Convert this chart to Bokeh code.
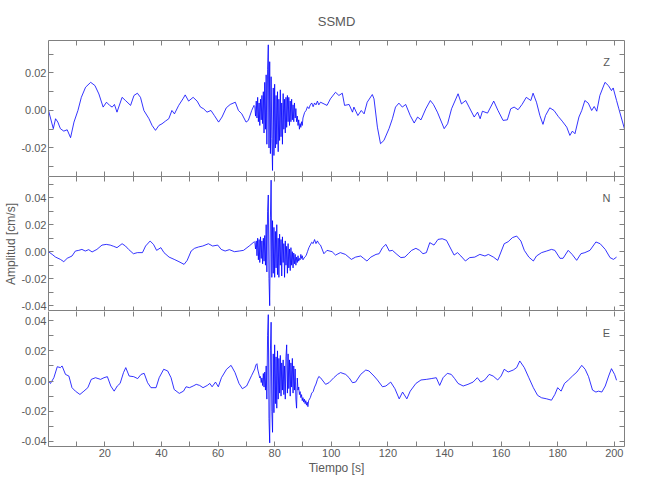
import numpy as np
from bokeh.plotting import figure
from bokeh.layouts import column
from bokeh.models import Range1d, FixedTicker, LinearAxis, Label, PrintfTickFormatter
from bokeh.embed import file_html
from bokeh.resources import INLINE

# ---------------- data ----------------
title_text = "SSMD"
x_label = "Tiempo [s]"
y_label = "Amplitud [cm/s]"
components = ["Z", "N", "E"]

x_ticks = [20, 40, 60, 80, 100, 120, 140, 160, 180, 200]

# sampling grid of the dense (strong-motion) part of the records
burst_start = 73.0
burst_step = 0.25

# --- Z component ---
z_t_pre = [0.1, 1.8, 2.6, 3.4, 4.3, 5.5, 6.7, 7.9, 9.1, 10.5, 11.7, 13.2, 15.0, 16.5, 17.9,
           19.4, 20.6, 21.7, 22.6, 23.4, 24.3, 26.1, 27.3, 29.1, 30.3, 31.5, 32.6, 33.8,
           35.6, 36.7, 37.9, 39.1, 40.2, 41.4, 42.6, 43.7, 44.6, 46.1, 47.6, 48.4, 49.6,
           51.2, 52.6, 53.8, 54.9, 56.1, 57.5, 58.7, 60.2, 61.4, 62.9, 64.3, 66.1, 67.2,
           68.4, 69.9, 70.7, 71.9, 72.7]
z_v_pre = [0.0, -0.0097, -0.0044, -0.0062, -0.0097, -0.011, -0.0103, -0.0145, -0.0062, 0.0,
           0.007, 0.0124, 0.015, 0.0133, 0.0088, 0.0018, 0.0044, 0.0027, 0.0018, 0.0032,
           -0.0009, 0.007, 0.0053, 0.0027, 0.008, 0.0092, 0.007, 0.0, -0.0044, -0.008,
           -0.0106, -0.008, -0.0071, -0.0057, -0.0044, 0.0, -0.0018, 0.0027, 0.0062, 0.0083,
           0.005, 0.007, 0.005, 0.0018, 0.0009, -0.0009, 0.0, -0.0027, -0.0062, -0.0035,
           0.0014, 0.0032, 0.0044, 0.0, -0.0018, -0.0062, -0.0053, 0.0, 0.0027]
z_burst = [0.002, -0.003, 0.005, -0.004, 0.007, -0.006, 0.004, -0.008, 0.006, -0.005,
           0.008, -0.007, 0.010, -0.012, 0.015, -0.010, 0.019, -0.018, 0.022, 0.035,
           -0.020, 0.026, -0.023, 0.018, -0.015, -0.032, 0.012, -0.024, 0.014, -0.020,
           0.008, -0.018, 0.010, -0.022, 0.006, -0.016, 0.011, -0.014, 0.004, -0.018,
           0.009, -0.010, 0.006, -0.012, 0.007, -0.009, 0.008, -0.006, 0.007, -0.008,
           0.005, -0.006, 0.006, -0.005, 0.003, -0.006, 0.004, -0.004, 0.001, -0.006,
           -0.003, -0.008, -0.005, -0.010, -0.007, -0.009, -0.006, -0.008, -0.004]
z_t_post = [90.6, 91.1, 91.6, 92.1, 92.6, 93.1, 93.6, 94.1, 94.6, 95.1, 95.6,
            96.2, 98.5, 99.7, 101.5, 102.7, 103.9, 104.7, 106.3, 107.5, 108.0, 109.4, 110.6,
            111.6, 112.7, 114.5, 115.1, 116.3, 117.4, 118.6, 120.4, 121.6, 122.7, 123.9,
            125.1, 126.3, 127.9, 129.3, 130.5, 131.7, 133.4, 135.0, 136.1, 137.5, 139.9,
            141.1, 142.5, 144.8, 146.0, 147.5, 148.7, 150.5, 151.7, 152.6, 153.4, 155.2,
            157.4, 158.9, 160.7, 162.2, 163.4, 164.6, 166.0, 167.4, 168.9, 170.5, 171.3,
            172.5, 173.7, 174.8, 175.7, 177.2, 178.7, 180.2, 181.6, 183.2, 184.3, 185.2,
            186.1, 187.5, 188.5, 189.6, 190.8, 192.0, 192.9, 193.8, 194.9, 196.7, 197.9,
            199.0, 199.6, 200.8, 201.6, 203.6]
z_v_post = [-0.001, 0.0, 0.002, 0.001, 0.003, 0.004, 0.002, 0.004, 0.003, 0.005, 0.003,
            0.0044, 0.0027, 0.0062, 0.0097, 0.008, 0.0092, 0.0027, 0.0032, -0.0009, 0.0018,
            -0.0027, 0.0, -0.0018, 0.0044, 0.0085, 0.0062, -0.0089, -0.0177, -0.016,
            -0.0097, -0.0044, 0.0018, 0.0039, 0.0018, 0.0032, -0.0027, -0.0067, -0.0035,
            -0.005, 0.0009, 0.0053, 0.0032, -0.0009, -0.0097, -0.0071, 0.0009, 0.0089,
            0.0035, 0.0053, 0.0018, -0.0035, -0.0009, -0.0044, -0.0004, -0.0014, 0.005, 0.0,
            -0.0053, -0.005, 0.0009, 0.0018, 0.0004, 0.0032, 0.007, 0.0053, 0.0092, 0.0044,
            -0.0027, -0.0074, -0.0027, 0.0014, 0.0, -0.0032, -0.0057, -0.0089, -0.0133,
            -0.011, -0.0124, -0.0035, 0.0, 0.0053, 0.0039, 0.0, 0.0021, -0.0004, 0.008,
            0.015, 0.0133, 0.0106, 0.012, 0.0053, 0.0009, -0.0099]

# --- N component ---
n_t_pre = [0.1, 1.4, 2.6, 4.3, 5.5, 6.7, 8.4, 9.6, 10.8, 11.9, 13.1, 14.3, 15.5, 17.2, 19.0,
           20.5, 21.9, 23.1, 24.3, 26.1, 27.3, 28.4, 30.1, 31.5, 33.3, 34.4, 36.0, 37.2,
           38.3, 39.8, 40.9, 42.7, 44.5, 46.2, 48.0, 49.1, 50.5, 51.7, 53.1, 54.6, 56.6,
           58.1, 59.9, 61.1, 62.5, 64.0, 65.8, 67.5, 69.0, 71.0, 72.8]
n_v_pre = [0.0, -0.002, -0.004, -0.0057, -0.0074, -0.0049, -0.0032, 0.0005, 0.001, 0.0017,
           0.0005, 0.0015, -0.0002, 0.0017, 0.0049, 0.0054, 0.0049, 0.004, 0.003, 0.0059,
           0.0042, 0.0017, -0.0015, -0.0007, -0.0007, 0.0042, 0.0079, 0.0054, 0.001, 0.003,
           -0.0007, -0.004, -0.0057, -0.0074, -0.0094, -0.0064, 0.0005, 0.0025, 0.0035,
           0.0042, 0.0059, 0.0042, 0.0049, 0.0017, 0.0005, 0.0015, 0.0, 0.0005, 0.001,
           0.0042, 0.0074]
n_burst = [0.007, 0.002, 0.008, -0.003, 0.010, -0.006, 0.009, -0.008, 0.011, -0.005,
           0.008, -0.009, 0.010, -0.007, 0.012, -0.010, 0.020, -0.015, 0.030, 0.042,
           -0.020, -0.040, 0.025, 0.053, -0.019, 0.023, -0.016, 0.018, -0.019, 0.015,
           -0.012, 0.020, -0.017, 0.010, -0.019, 0.013, -0.010, 0.009, -0.018, 0.011,
           -0.008, 0.006, -0.019, 0.008, -0.010, 0.004, -0.016, 0.006, -0.012, 0.002,
           -0.014, 0.003, -0.010, 0.000, -0.012, -0.001, -0.009, -0.002, -0.010, -0.004,
           -0.008, -0.003, -0.007, -0.005, -0.006, -0.002, -0.005, -0.003, -0.006]
n_t_post = [90.6, 91.1, 91.6, 92.1, 92.6, 93.1, 93.6, 94.1, 94.6, 95.1, 95.6,
            96.2, 97.4, 98.5, 100.3, 101.5, 103.2, 105.0, 107.1, 108.6, 110.4, 111.4, 112.6,
            114.0, 115.8, 116.9, 118.1, 119.3, 120.5, 121.6, 123.2, 124.6, 126.0, 127.2,
            128.4, 129.9, 131.2, 132.4, 133.6, 134.8, 136.3, 137.7, 139.2, 140.7, 141.9,
            143.4, 144.6, 145.8, 147.4, 148.9, 150.7, 152.5, 154.3, 155.5, 157.3, 158.8,
            161.1, 162.5, 164.0, 165.5, 167.0, 168.2, 169.8, 171.4, 172.5, 174.3, 176.1,
            177.8, 179.0, 180.8, 181.9, 183.7, 185.1, 186.7, 188.2, 189.6, 191.4, 193.5,
            195.0, 196.8, 198.5, 199.7, 200.8]
n_v_post = [-0.004, -0.003, 0.0, 0.003, 0.005, 0.007, 0.006, 0.009, 0.006, 0.008, 0.006,
            0.0049, -0.0015, 0.001, 0.0, -0.0025, -0.0007, -0.002, -0.0057, -0.004, -0.0032,
            -0.0049, -0.0069, -0.004, -0.002, -0.0015, 0.003, 0.0054, 0.0005, 0.001, -0.002,
            -0.0044, -0.004, -0.0015, 0.001, 0.0025, 0.001, -0.0015, -0.0007, 0.0067, 0.0049,
            0.0091, 0.0096, 0.0084, 0.0035, -0.0025, -0.0007, -0.0032, -0.0069, -0.0044,
            -0.004, -0.002, -0.0032, -0.002, -0.004, -0.0064, 0.0059, 0.0074, 0.0104, 0.0116,
            0.0079, 0.001, -0.004, -0.0069, -0.0032, -0.0007, 0.0005, 0.0017, 0.001, -0.0049,
            -0.0049, 0.001, -0.002, -0.0064, -0.0015, -0.0007, 0.001, 0.0072, 0.0059, 0.0017,
            -0.0044, -0.0057, -0.004]

# --- E component ---
e_t_pre = [0.1, 0.8, 2.0, 3.2, 4.3, 4.9, 6.1, 7.3, 8.4, 9.6, 11.2, 12.6, 14.0, 15.2, 16.7,
           18.5, 19.7, 20.9, 22.1, 23.3, 24.4, 25.4, 26.6, 27.4, 28.6, 30.2, 31.6, 32.8,
           33.9, 35.1, 36.3, 38.1, 39.2, 40.8, 42.2, 43.4, 44.5, 46.3, 47.8, 48.7, 49.9,
           51.2, 52.3, 53.5, 54.7, 56.2, 57.1, 57.9, 59.1, 60.1, 61.2, 63.0, 64.6, 66.0,
           67.4, 68.6, 70.1, 71.9]
e_v_pre = [0.0, -0.0016, 0.0022, 0.0095, 0.0089, 0.01, 0.0044, 0.0033, -0.0044, -0.0067,
           -0.0089, -0.0067, -0.0044, 0.0011, 0.0022, 0.0011, 0.0022, 0.0029, -0.0033,
           -0.0067, -0.0033, -0.0016, 0.0056, 0.0089, 0.0033, 0.0029, 0.0016, 0.0044, 0.0051,
           -0.0011, -0.0044, -0.0044, 0.0022, 0.0078, 0.0067, 0.0022, -0.0056, -0.0082,
           -0.0067, -0.0038, -0.0044, -0.0033, -0.0022, -0.0029, -0.0044, -0.0029, -0.0016,
           -0.0038, -0.0007, -0.0038, 0.0022, 0.0078, 0.0104, 0.0056, -0.0016, -0.0051,
           -0.0033, 0.0038]
e_burst = [0.008, 0.010, 0.011, 0.0115, 0.008, 0.006, 0.004, 0.002, 0.003, -0.001,
           0.002, -0.003, 0.005, -0.004, 0.006, -0.006, 0.010, -0.012, 0.030, 0.044,
           -0.025, -0.041, 0.020, 0.039, -0.020, -0.034, 0.018, -0.021, 0.024, -0.015,
           0.016, -0.018, 0.020, -0.012, 0.015, -0.008, 0.017, -0.010, 0.012, -0.006,
           0.014, -0.009, 0.010, -0.012, 0.016, 0.024, -0.008, 0.018, -0.005, 0.014,
           -0.010, 0.012, -0.004, 0.015, -0.008, 0.010, -0.006, 0.008, -0.012, -0.018,
           0.002, -0.006, -0.004, -0.009, -0.007, -0.011, -0.009, -0.013, -0.011, -0.014,
           -0.012, -0.015, -0.013, -0.016, -0.014, -0.017, -0.013]
e_t_post = [92.6, 93.1, 93.6, 94.1, 94.6, 95.1, 95.6,
            96.2, 98.0, 99.2, 100.9, 102.2, 103.3, 105.1, 106.3, 107.5, 108.6, 110.4, 112.2,
            113.3, 115.1, 116.3, 118.1, 119.3, 121.0, 122.5, 124.0, 125.2, 126.7, 127.9,
            129.9, 131.7, 133.6, 135.3, 137.1, 138.3, 139.5, 141.0, 142.4, 143.6, 144.8,
            146.6, 148.3, 150.1, 151.6, 152.8, 154.2, 155.8, 157.2, 158.8, 160.0, 161.1,
            162.5, 164.3, 165.5, 166.6, 168.2, 169.8, 171.4, 172.9, 174.3, 176.1, 177.8,
            179.0, 180.0, 181.2, 182.4, 183.8, 185.2, 186.8, 188.5, 189.7, 190.9, 192.3,
            193.5, 194.4, 195.6, 196.8, 198.0, 199.0, 200.1, 200.8]
e_v_post = [-0.011, -0.008, -0.007, -0.004, -0.002, 0.001, 0.003,
            0.0022, -0.0022, -0.0011, 0.0022, 0.0044, 0.0056, 0.0044, 0.0022, -0.0011,
            -0.0007, 0.0044, 0.0073, 0.0067, 0.0033, 0.0007, -0.0038, -0.0033, -0.0007,
            -0.0051, -0.0118, -0.0073, -0.0118, -0.0067, -0.0016, 0.0007, 0.0011, 0.0016,
            0.0022, -0.0029, 0.0022, 0.0051, 0.0044, 0.0016, -0.0016, -0.0033, -0.0022,
            -0.0007, 0.0022, -0.0007, 0.0007, 0.0044, 0.0033, 0.0007, 0.0033, 0.0078, 0.006,
            0.0073, 0.0089, 0.0133, 0.0089, 0.0022, -0.0044, -0.0095, -0.0111, -0.0118,
            -0.0127, -0.0089, -0.0044, -0.0067, -0.0016, 0.0007, 0.0033, 0.006, 0.0104,
            0.0078, 0.0029, -0.006, -0.0073, -0.0067, -0.0073, -0.0033, 0.0033, 0.0082,
            0.0044, 0.0005]

x_range_lim = (0.1, 203.6)
y_limits = [(-0.0352, 0.0373), (-0.0443, 0.0557), (-0.0434, 0.0461)]
y_label_ticks = [[-0.02, 0.0, 0.02], [-0.04, -0.02, 0.0, 0.02, 0.04], [-0.04, -0.02, 0.0, 0.02, 0.04]]
y_minor_ticks = [[-0.03, -0.01, 0.01, 0.03],
                 [-0.03, -0.01, 0.01, 0.03, 0.05],
                 [-0.03, -0.01, 0.01, 0.03]]


def series(t_pre, v_pre, burst, t_post, v_post):
    t_b = [burst_start + i * burst_step for i in range(len(burst))]
    return list(t_pre) + t_b + list(t_post), list(v_pre) + list(burst) + list(v_post)


traces = [series(z_t_pre, z_v_pre, z_burst, z_t_post, z_v_post),
          series(n_t_pre, n_v_pre, n_burst, n_t_post, n_v_post),
          series(e_t_pre, e_v_pre, e_burst, e_t_post, e_v_post)]

# ---------------- style ----------------
GRAY = "#808080"
TXT = "#5a5a5a"
FONT = "Liberation Sans"
FRAME_W = 576
FRAME_H = [136, 135, 135]

xr = Range1d(*x_range_lim)
x_ticker = FixedTicker(ticks=x_ticks, minor_ticks=[10, 30, 50, 70, 90, 110, 130, 150, 170, 190])


def style_axis(ax, show_labels, show_line):
    ax.axis_line_color = GRAY if show_line else None
    ax.major_tick_line_color = GRAY
    ax.minor_tick_line_color = GRAY
    ax.major_tick_in = 5
    ax.major_tick_out = 0
    ax.minor_tick_in = 5
    ax.minor_tick_out = 0
    if show_labels:
        ax.major_label_text_font = FONT
        ax.major_label_text_font_size = "11px"
        ax.major_label_text_color = TXT
        ax.major_label_standoff = 2
    else:
        ax.major_label_text_font_size = "0px"
        ax.major_label_text_color = None
        ax.major_label_standoff = 0


figs = []
for i in range(3):
    top = 40 if i == 0 else 0
    bottom = 40 if i == 2 else 0
    p = figure(frame_width=FRAME_W, frame_height=FRAME_H[i],
               x_range=xr, y_range=Range1d(*y_limits[i]),
               output_backend="svg", toolbar_location=None,
               x_axis_location=None, y_axis_location=None,
               min_border_left=48, min_border_right=12,
               min_border_top=top, min_border_bottom=bottom)
    p.grid.visible = False
    # the middle panel carries a full outline (it draws both shared borders);
    # the outer panels draw their free edges with axis lines
    p.outline_line_color = GRAY if i == 1 else None
    p.background_fill_color = "white"
    p.border_fill_color = "white"

    side_lines = i != 1
    y_ticker = FixedTicker(ticks=y_label_ticks[i], minor_ticks=y_minor_ticks[i])

    ax_b = LinearAxis(ticker=x_ticker)
    style_axis(ax_b, i == 2, i == 2)
    ax_t = LinearAxis(ticker=x_ticker)
    style_axis(ax_t, False, i == 0)
    ax_l = LinearAxis(ticker=y_ticker, formatter=PrintfTickFormatter(format="%.2f"))
    style_axis(ax_l, True, side_lines)
    ax_r = LinearAxis(ticker=y_ticker)
    style_axis(ax_r, False, side_lines)
    p.add_layout(ax_b, "below")
    p.add_layout(ax_t, "above")
    p.add_layout(ax_l, "left")
    p.add_layout(ax_r, "right")

    if i == 1:
        ax_l.axis_label = y_label
        ax_l.axis_label_text_font = FONT
        ax_l.axis_label_text_font_size = "12px"
        ax_l.axis_label_text_font_style = "normal"
        ax_l.axis_label_text_color = TXT
        ax_l.axis_label_standoff = 0
    if i == 2:
        ax_b.axis_label = x_label
        ax_b.axis_label_text_font = FONT
        ax_b.axis_label_text_font_size = "12px"
        ax_b.axis_label_text_font_style = "normal"
        ax_b.axis_label_text_color = TXT
        ax_b.axis_label_standoff = 1
    if i == 0:
        p.title.text = title_text
        p.title.align = "center"
        p.title.text_font = FONT
        p.title.text_font_size = "13px"
        p.title.text_font_style = "normal"
        p.title.text_color = TXT
        p.title.standoff = 23

    t, v = traces[i]
    p.line(t, v, line_color="#0000ff", line_width=0.8)

    p.add_layout(Label(x=FRAME_W - 18, y=FRAME_H[i] - 21, x_units="screen", y_units="screen",
                       text=components[i], text_font=FONT, text_font_size="11px",
                       text_color=TXT, text_align="center", text_baseline="middle"))
    figs.append(p)

layout = column(*figs, spacing=0)
open("out.html", "w").write(file_html(layout, INLINE))
